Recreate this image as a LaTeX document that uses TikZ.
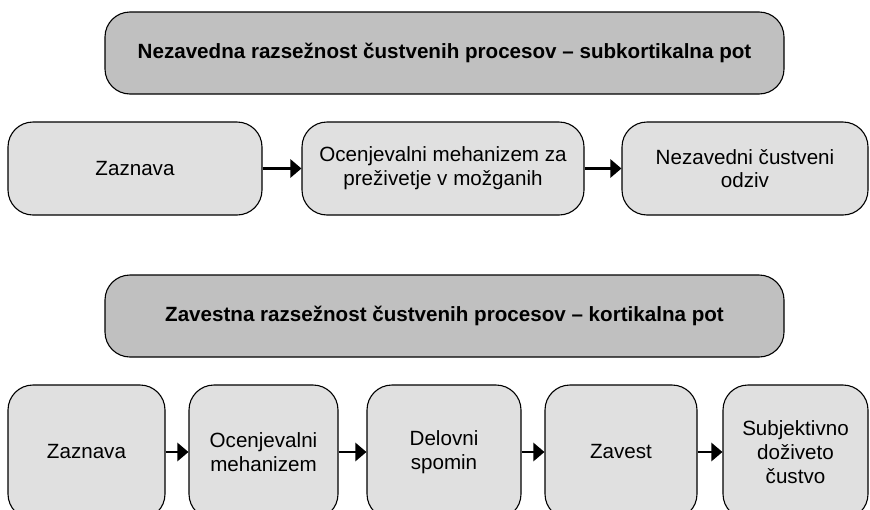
\documentclass[tikz,border=0pt]{standalone}
\usepackage{fontspec}
\setmainfont{Liberation Sans}
\usetikzlibrary{arrows.meta}
\definecolor{headgray}{HTML}{C0C0C0}
\definecolor{boxgray}{HTML}{E0E0E0}

\begin{document}
\begin{tikzpicture}[x=1pt,y=-1pt,
  card/.style={draw=black, line width=1.1pt, rounded corners=25pt, inner sep=0pt,
    align=center, font=\fontsize{20.6}{23.8}\selectfont},
  header/.style={card, fill=headgray, font=\fontsize{20.6}{23.8}\selectfont\bfseries,
    minimum width=679pt, minimum height=82pt},
  stage/.style={card, fill=boxgray},
  flow/.style={line width=2.6pt, -{Triangle[length=11pt,width=18pt]}}]
\useasboundingbox (0,0) rectangle (870,509);

% Subcortical pathway
\node[header] (h1) at (444.5,53) {Nezavedna razsežnost čustvenih procesov – subkortikalna pot};
\node[stage, minimum width=254pt, minimum height=93pt] (s1) at (135,168.5) {Zaznava};
\node[stage, minimum width=282pt, minimum height=93pt] (s2) at (443,168.5) {Ocenjevalni mehanizem za\\preživetje v možganih};
\node[stage, minimum width=246pt, minimum height=93pt] (s3) at (745,168.5) {Nezavedni čustveni\\odziv};
\draw[flow] (s1.east) -- (s2.west);
\draw[flow] (s2.east) -- (s3.west);

% Cortical pathway
\node[header] (h2) at (444.5,316) {Zavestna razsežnost čustvenih procesov – kortikalna pot};
\node[stage, minimum width=157pt, minimum height=134pt] (k1) at (86.5,452) {Zaznava};
\node[stage, minimum width=149pt, minimum height=134pt] (k2) at (263.5,452) {Ocenjevalni\\mehanizem};
\node[stage, minimum width=154pt, minimum height=134pt] (k3) at (444,452) {Delovni\\spomin};
\node[stage, minimum width=152pt, minimum height=134pt] (k4) at (621,452) {Zavest};
\node[stage, minimum width=145pt, minimum height=134pt] (k5) at (795.5,452) {Subjektivno\\doživeto\\čustvo};
\draw[flow] (k1.east) -- (k2.west);
\draw[flow] (k2.east) -- (k3.west);
\draw[flow] (k3.east) -- (k4.west);
\draw[flow] (k4.east) -- (k5.west);
\end{tikzpicture}
\end{document}
